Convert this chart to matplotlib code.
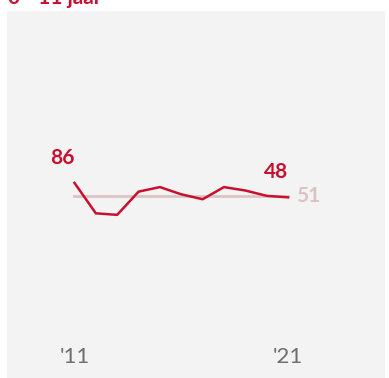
import matplotlib.pyplot as plt

years = [2011, 2012, 2013, 2014, 2015, 2016, 2017, 2018, 2019, 2020, 2021]
values = [86, 6, 2, 63, 75, 56, 43, 75, 66, 52, 48]
reference = 51
tick_years = [2011, 2021]
tick_labels = ["'11", "'21"]
title = "0 - 11 jaar"

red = '#c8102e'
pale = '#dcc3c3'

fig = plt.figure(figsize=(3.89, 3.78), dpi=100)
ax = fig.add_axes([7 / 389, 0, 378 / 389, 1 - 11 / 378])
ax.set_facecolor('#f3f3f3')

ax.plot([years[0], years[-1]], [reference, reference], color=pale, lw=2.0, zorder=1)
ax.plot(years, values, color=red, lw=1.8, zorder=2)

# end labels
ax.annotate(str(values[0]), (years[0], values[0]), xytext=(0, 11), textcoords='offset points',
            ha='right', va='bottom', color=red, fontsize=15, fontweight='bold', family='Lato')
ax.annotate(str(values[-1]), (years[-1], values[-1]), xytext=(0, 11), textcoords='offset points',
            ha='right', va='bottom', color=red, fontsize=15, fontweight='bold', family='Lato')
ax.annotate(str(reference), (years[-1], reference), xytext=(6, 0), textcoords='offset points',
            ha='left', va='center', color=pale, fontsize=15, fontweight='bold', family='Lato')

ax.set_xlim(2007.84, 2025.54)
ax.set_ylim(-427, 538)
ax.set_xticks([])
ax.set_yticks([])
for s in ax.spines.values():
    s.set_visible(False)

for yr, lab in zip(tick_years, tick_labels):
    ax.text(yr, -372, lab, ha='center', va='center', color='#6e6e6e', fontsize=16,
            family='Lato')

fig.text(8 / 389, 1 - 4 / 378, title, ha='left', va='baseline', color=red,
         fontsize=15, fontweight='bold', family='Lato')

fig.savefig('out.png', dpi=100, facecolor='white')
